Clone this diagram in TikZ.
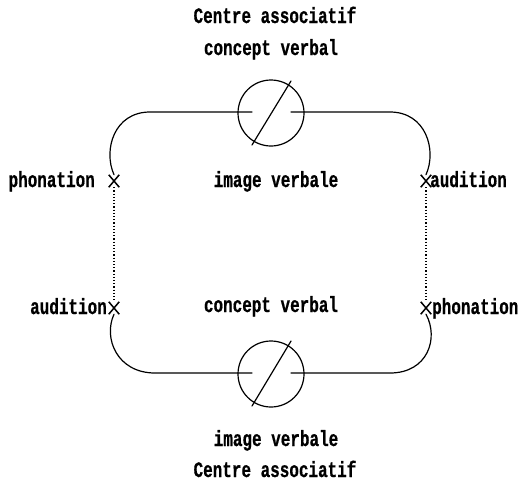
\documentclass[tikz,border=0pt]{standalone}
\usepackage{fontspec}
\usepackage{graphicx}
\usetikzlibrary{shapes.misc}
\newfontfamily\lblfont{Liberation Mono}[FakeBold=0.8]
\newcommand\nar[1]{\scalebox{0.76}[1.05]{#1}}
\begin{document}
\begin{tikzpicture}[x=1pt,y=-1pt,
  lbl/.style={inner sep=0pt, font=\lblfont\bfseries\fontsize{21}{21}\selectfont},
  wire/.style={line width=1.2pt, line cap=round},
  dotline/.style={line width=1.2pt, dotted},
  crossmark/.style={cross out, draw, line width=1.5pt, minimum width=9pt, minimum height=11pt, inner sep=0pt},
  ring/.style={circle, draw, line width=1.2pt, minimum size=66pt, inner sep=0pt}]
\useasboundingbox (0,0) rectangle (528,485);
% circles
\node[ring] (ct) at (271,113) {};
\node[ring] (cb) at (271,374) {};
% cross marks
\node[crossmark] (pl) at (114,181) {};
\node[crossmark] (ar) at (426,181) {};
\node[crossmark] (al) at (114,308) {};
\node[crossmark] (pr) at (426,308) {};
% stubs inside circles
\coordinate (ctl) at (252,112);
\coordinate (ctr) at (291,112);
\coordinate (cbl) at (252,373);
\coordinate (cbr) at (291,373);
% diagonals
\draw[wire] (252,145) -- (291,81);
\draw[wire] (252,406) -- (291,341);
% upper loop
\draw[wire] (ctl) -- (150,112) .. controls (114,112) and (103,150) .. (pl.north);
\draw[wire] (ctr) -- (390,112) .. controls (426,112) and (437,150) .. (ar.north);
% lower loop
\draw[wire] (cbl) -- (155,373) .. controls (117,373) and (103,338) .. (al.south);
\draw[wire] (cbr) -- (390,373) .. controls (428,373) and (439,338) .. (pr.south);
% dotted links
\draw[dotline] (pl.south) -- (al.north);
\draw[dotline] (ar.south) -- (pr.north);
% labels
\node[lbl, anchor=base] (t1) at (275,23) {\nar{Centre associatif}};
\node[lbl, anchor=base] (t2) at (271,55) {\nar{concept verbal}};
\node[lbl, anchor=base] (t3) at (276,187) {\nar{image verbale}};
\node[lbl, anchor=base] (t4) at (271,312) {\nar{concept verbal}};
\node[lbl, anchor=base] (t5) at (276,446) {\nar{image verbale}};
\node[lbl, anchor=base] (t6) at (275,477) {\nar{Centre associatif}};
\node[lbl, anchor=base east] (l1) at (95,187) {\nar{phonation}};
\node[lbl, anchor=base west] (l2) at (430,187) {\nar{audition}};
\node[lbl, anchor=base east] (l3) at (107,314) {\nar{audition}};
\node[lbl, anchor=base west] (l4) at (432,314) {\nar{phonation}};
\end{tikzpicture}
\end{document}
